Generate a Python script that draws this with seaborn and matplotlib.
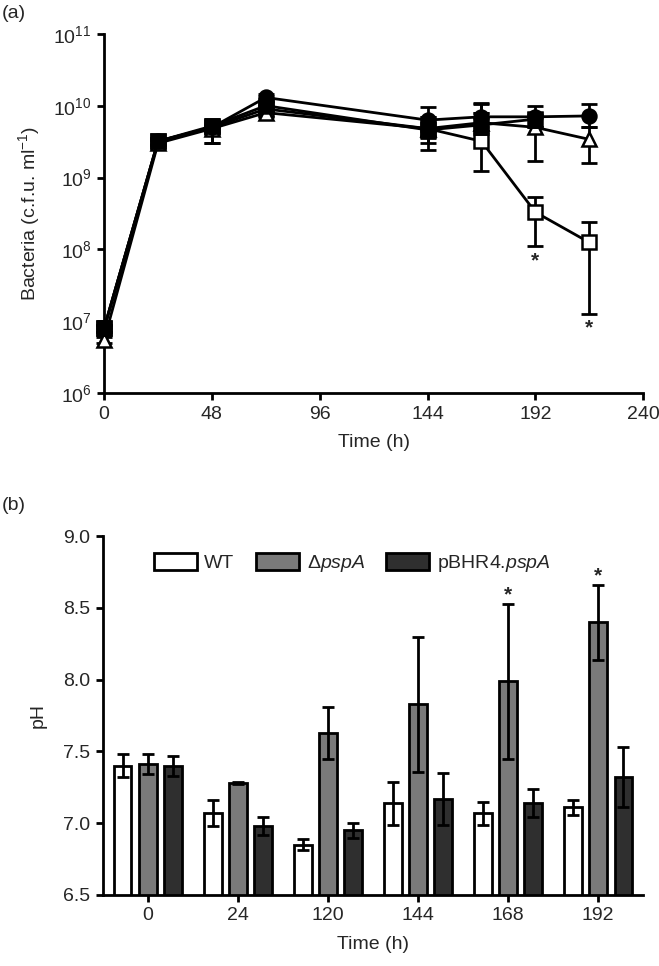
import matplotlib
matplotlib.use('Agg')
import matplotlib.pyplot as plt
import matplotlib.ticker as mticker
from matplotlib.patches import Patch
import numpy as np
import pandas as pd
import seaborn as sns

# ---------------- data ----------------
# panel (a): bacterial counts over time (c.f.u. per ml)
times_a = [0, 24, 48, 72, 144, 168, 192, 216]

circle_mean = [8e6, 3.2e9, 5.0e9, 1.3e10, 6.3e9, 7.0e9, 7.0e9, 7.2e9]
circle_lo = [7e6, 2.8e9, 4.4e9, 1.15e10, 4.5e9, 5.0e9, 5.0e9, 5.0e9]
circle_hi = [9e6, 3.6e9, 5.6e9, 1.45e10, 9.5e9, 1.05e10, 1.0e10, 1.05e10]

fsquare_mean = [8e6, 3.2e9, 5.2e9, 1.0e10, 4.6e9, 5.4e9, 6.5e9, np.nan]
fsquare_lo = [7e6, 2.8e9, 3.0e9, 8.5e9, 3.0e9, 4.0e9, 5.0e9, np.nan]
fsquare_hi = [9e6, 3.6e9, 6.5e9, 1.15e10, 7.0e9, 8.0e9, 8.0e9, np.nan]

triangle_mean = [5.5e6, 3.0e9, 4.8e9, 8.0e9, 4.8e9, 5.8e9, 5.0e9, 3.4e9]
triangle_lo = [5e6, 2.7e9, 4.2e9, 7.0e9, 3.5e9, 4.5e9, 1.7e9, 1.6e9]
triangle_hi = [6e6, 3.3e9, 5.4e9, 9.0e9, 6.5e9, 8.0e9, 7.5e9, 5.0e9]

osquare_mean = [8e6, 3.2e9, 5.0e9, 9.0e9, 4.8e9, 3.2e9, 3.3e8, 1.25e8]
osquare_lo = [7e6, 2.9e9, 3.0e9, 8.0e9, 2.4e9, 1.25e9, 1.1e8, 1.25e7]
osquare_hi = [9e6, 3.5e9, 6.0e9, 1.0e10, 7.0e9, 1.1e10, 5.4e8, 2.4e8]

# significance marks in (a)
star_a_x = [192, 216]
star_a_y = [7e7, 8e6]

# panel (b): pH of culture
times_b = ['0', '24', '120', '144', '168', '192']
strains = ['WT', 'ΔpspA', 'pBHR4.pspA']
ph_wt = [7.40, 7.07, 6.85, 7.14, 7.07, 7.11]
ph_wt_err = [0.08, 0.09, 0.04, 0.15, 0.08, 0.05]
ph_del = [7.41, 7.28, 7.63, 7.83, 7.99, 8.40]
ph_del_err = [0.07, 0.01, 0.18, 0.47, 0.54, 0.26]
ph_comp = [7.40, 6.98, 6.95, 7.17, 7.14, 7.32]
ph_comp_err = [0.07, 0.06, 0.05, 0.18, 0.10, 0.21]

# ---------------- style ----------------
sns.set_style('ticks')
plt.rcParams['font.family'] = ['Liberation Sans', 'DejaVu Sans']
plt.rcParams['mathtext.fontset'] = 'custom'
plt.rcParams['mathtext.rm'] = 'Liberation Sans'
plt.rcParams['mathtext.it'] = 'Liberation Sans:italic'
plt.rcParams['font.size'] = 14

FS = 14
LW = 2.0

fig = plt.figure(figsize=(6.59, 9.66), dpi=100)
ax1 = fig.add_axes([0.158, 0.593, 0.818, 0.372])
ax2 = fig.add_axes([0.156, 0.0735, 0.820, 0.3715])

for ax in (ax1, ax2):
    for s in ['top', 'right']:
        ax.spines[s].set_visible(False)
    for s in ['left', 'bottom']:
        ax.spines[s].set_linewidth(LW)
        ax.spines[s].set_color('black')
    ax.tick_params(axis='both', width=LW, length=5, direction='out',
                   labelsize=FS, color='black', pad=4)

# ---------------- panel (a) ----------------
# drawn back to front: open square, triangle, filled square, circle
series = [
    (osquare_mean, osquare_lo, osquare_hi, 's', 'white'),
    (triangle_mean, triangle_lo, triangle_hi, '^', 'white'),
    (fsquare_mean, fsquare_lo, fsquare_hi, 's', 'black'),
    (circle_mean, circle_lo, circle_hi, 'o', 'black'),
]
for i, (mean, lo, hi, mk, face) in enumerate(series):
    mean = np.array(mean)
    yerr = [mean - np.array(lo), np.array(hi) - mean]
    ax1.errorbar(times_a, mean, yerr=yerr, fmt='none', ecolor='black',
                 elinewidth=LW, capsize=6, capthick=LW, zorder=2 + 2 * i, clip_on=False)
    sns.lineplot(x=times_a, y=mean, ax=ax1, color='black', linewidth=LW,
                 marker=mk, markersize=10, markerfacecolor=face,
                 markeredgecolor='black', markeredgewidth=1.8,
                 zorder=3 + 2 * i, clip_on=False)

for x, y in zip(star_a_x, star_a_y):
    ax1.text(x, y, '*', ha='center', va='center', fontsize=15, fontweight='bold')

ax1.set_yscale('log')
ax1.set_ylim(1e6, 1e11)
ax1.set_xlim(0, 240)
ax1.set_xticks([0, 48, 96, 144, 192, 240])
ax1.yaxis.set_major_locator(mticker.LogLocator(base=10, numticks=10))
ax1.yaxis.set_minor_locator(mticker.NullLocator())
ax1.set_xlabel('Time (h)', fontsize=FS, labelpad=8)
ax1.set_ylabel('Bacteria (c.f.u. ml$^{-1}$)', fontsize=FS, labelpad=8)

# ---------------- panel (b) ----------------
df_b = pd.DataFrame({
    'time': times_b * 3,
    'strain': [strains[0]] * 6 + [strains[1]] * 6 + [strains[2]] * 6,
    'ph': ph_wt + ph_del + ph_comp,
})
colors_b = ['white', '#7a7a7a', '#2f2f2f']
sns.barplot(data=df_b, x='time', y='ph', hue='strain', hue_order=strains,
            order=times_b, palette=colors_b, errorbar=None, width=0.84, gap=0.3,
            edgecolor='black', linewidth=LW, ax=ax2, legend=False)

# error bars centred on bars
offsets = [-0.28, 0.0, 0.28]
for k, (vals, errs) in enumerate([(ph_wt, ph_wt_err), (ph_del, ph_del_err),
                                  (ph_comp, ph_comp_err)]):
    xs = np.arange(len(times_b)) + offsets[k]
    ax2.errorbar(xs, vals, yerr=errs, fmt='none', ecolor='black',
                 elinewidth=LW, capsize=4, capthick=LW, zorder=4)

# significance marks in (b)
ax2.text(4.0, 8.53 + 0.06, '*', ha='center', va='center', fontsize=15, fontweight='bold')
ax2.text(5.0, 8.66 + 0.06, '*', ha='center', va='center', fontsize=15, fontweight='bold')

ax2.set_ylim(6.5, 9.0)
ax2.set_xlim(-0.5, 5.5)
ax2.set_yticks([6.5, 7.0, 7.5, 8.0, 8.5, 9.0])
ax2.yaxis.set_major_formatter(mticker.FormatStrFormatter('%.1f'))
ax2.set_xlabel('Time (h)', fontsize=FS, labelpad=8)
ax2.set_ylabel('pH', fontsize=FS, labelpad=12)

handles = [Patch(facecolor=c, edgecolor='black', linewidth=LW) for c in colors_b]
labels = ['WT', 'Δ$\\mathit{pspA}$', 'pBHR4.$\\mathit{pspA}$']
ax2.legend(handles, labels, ncol=3, frameon=False, fontsize=FS,
           loc='upper left', bbox_to_anchor=(0.08, 0.975),
           handlelength=2.2, handleheight=1.0, handletextpad=0.4,
           columnspacing=1.1, borderaxespad=0)

fig.text(0.003, 1 - 14 / 966, '(a)', fontsize=FS, va='center', ha='left')
fig.text(0.003, 1 - 505 / 966, '(b)', fontsize=FS, va='center', ha='left')

fig.savefig('out.png', dpi=100)
plt.close(fig)
